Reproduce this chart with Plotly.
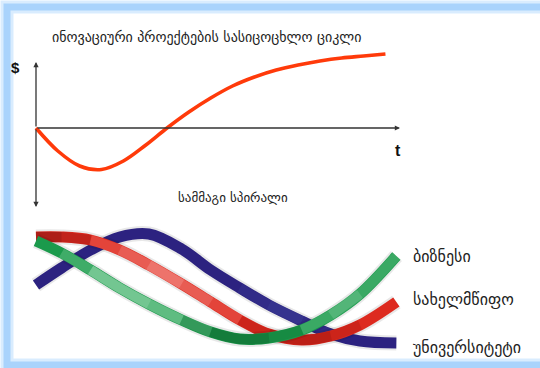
import plotly.graph_objects as go

# --- Life-cycle curve of an innovative project (cash flow over time) ---
t_vals = [0, 0.6, 1.2, 1.8, 2.4, 3.0, 3.6, 4.2, 4.8, 5.4, 6.0, 6.6, 7.2, 7.8, 8.4, 9.0, 9.6]
cash_vals = [0, -2.3, -3.8, -4.15, -3.3, -1.75, 0, 1.6, 3.0, 4.2, 5.1, 5.8, 6.3, 6.7, 7.0, 7.2, 7.4]

# --- Triple helix ribbons ---
helix_x = [0, 0.7, 1.5, 2.3, 3.1, 4.0, 4.8, 5.6, 6.4, 7.3, 8.1, 8.9, 9.9]
business = [9.9, 8.7, 7.0, 5.2, 3.6, 2.0, 0.8, 0.1, 0.2, 1.0, 2.5, 4.6, 8.4]
state = [10.3, 10.3, 10.0, 9.0, 7.5, 5.6, 3.8, 2.0, 0.6, 0.0, 0.4, 1.5, 3.8]
university = [5.5, 7.2, 9.0, 10.3, 10.6, 9.1, 7.0, 5.2, 3.5, 1.9, 0.6, -0.1, -0.3]

title_text = "ინოვაციური პროექტების სასიცოცხლო ციკლი"
helix_title = "სამმაგი სპირალი"
labels = ["ბიზნესი", "სახელმწიფო", "უნივერსიტეტი"]
label_shift = [0, 3, -4]

W, H = 540, 368
GEO = "DejaVu Sans"

fig = go.Figure()

# top chart curve
fig.add_trace(go.Scatter(
    x=t_vals, y=cash_vals, mode="lines",
    line=dict(color="#ff3a0a", width=3.6, shape="spline", smoothing=1.0),
    xaxis="x", yaxis="y", hoverinfo="skip"))


def seg(xs, ys, a, b, color, width):
    fig.add_trace(go.Scatter(x=xs[a:b], y=ys[a:b], mode="lines", xaxis="x2", yaxis="y2",
                             line=dict(color=color, width=width, shape="spline"),
                             hoverinfo="skip"))


def ribbon(xs, ys, base, tints):
    """Ribbon with a soft shadow; `tints` are (start, end, rgba) overlays that
    stack to give the band a shaded look along its length."""
    n = len(xs)
    seg(xs, ys, 0, n, "rgba(0,0,0,0.09)", 15)
    seg(xs, ys, 0, n, base, 11)
    for a, b, col in tints:
        seg(xs, ys, a, b, col, 10)


ribbon(helix_x, university, "#2c2280", [
    (7, 11, "rgba(80,100,180,0.15)"),
    (8, 10, "rgba(80,100,180,0.15)"),
])
ribbon(helix_x, state, "#dd2a1f", [
    (0, 3, "rgba(130,20,20,0.3)"),
    (0, 2, "rgba(130,20,20,0.3)"),
    (2, 8, "rgba(255,190,185,0.18)"),
    (3, 7, "rgba(255,190,185,0.2)"),
    (4, 6, "rgba(255,200,195,0.22)"),
    (7, 12, "rgba(140,15,10,0.2)"),
    (8, 11, "rgba(140,15,10,0.25)"),
])
ribbon(helix_x, business, "#1b9a4c", [
    (1, 7, "rgba(210,245,220,0.2)"),
    (2, 6, "rgba(210,245,220,0.22)"),
    (2, 5, "rgba(210,245,220,0.18)"),
    (5, 10, "rgba(10,80,35,0.2)"),
    (6, 9, "rgba(10,80,35,0.25)"),
    (9, 13, "rgba(200,240,210,0.18)"),
    (10, 12, "rgba(200,240,210,0.18)"),
])

# axis arrows for the top chart
arrow = dict(xref="x", yref="y", axref="x", ayref="y", showarrow=True, arrowhead=2,
             arrowsize=0.8, arrowwidth=1.3, arrowcolor="#333333", text="")
fig.add_annotation(x=10, y=0, ax=0, ay=0, **arrow)
fig.add_annotation(x=0, y=6.6, ax=0, ay=0, **arrow)
fig.add_annotation(x=0, y=-7.9, ax=0, ay=0, **arrow)

fig.add_annotation(x=-0.55, y=6.1, xref="x", yref="y", text="<b>$</b>", showarrow=False,
                   font=dict(family="Liberation Sans", size=15, color="#111"))
fig.add_annotation(x=9.95, y=-2.2, xref="x", yref="y", text="<b>t</b>", showarrow=False,
                   font=dict(family="Liberation Sans", size=16, color="#111"))

fig.add_annotation(x=207 / W, y=1 - 27 / H, xref="paper", yref="paper", text=title_text,
                   showarrow=False, font=dict(family=GEO, size=14, color="#222"))
fig.add_annotation(x=233 / W, y=1 - 198 / H, xref="paper", yref="paper", text=helix_title,
                   showarrow=False, font=dict(family=GEO, size=13, color="#222"))

for lab, series, dy in zip(labels, [business, state, university], label_shift):
    fig.add_annotation(x=10.3, y=series[-1], xref="x2", yref="y2", text=lab, showarrow=False,
                       xanchor="left", yshift=dy, font=dict(family=GEO, size=16, color="#222"))

# light-blue frame
fig.add_shape(type="rect", xref="paper", yref="paper", x0=7 / W, x1=1.1, y0=1 - 365 / H, y1=1 - 7 / H,
              line=dict(color="rgba(170,212,252,0.45)", width=13), layer="below")
fig.add_shape(type="rect", xref="paper", yref="paper", x0=7 / W, x1=1.1, y0=1 - 365 / H, y1=1 - 7 / H,
              line=dict(color="#a9d3fc", width=7), layer="below")

x_rng = [(0 - 36) / 36.4, (W - 36) / 36.4]
hidden = dict(visible=False, fixedrange=True)
fig.update_layout(
    width=W, height=H, autosize=False, margin=dict(l=0, r=0, t=0, b=0),
    paper_bgcolor="white", plot_bgcolor="rgba(0,0,0,0)", showlegend=False,
    xaxis=dict(range=x_rng, domain=[0, 1], **hidden),
    yaxis=dict(range=[(128 - H) / 10, 128 / 10], domain=[0, 1], **hidden),
    xaxis2=dict(range=x_rng, domain=[0, 1], anchor="y2", overlaying="x", **hidden),
    yaxis2=dict(range=[(340 - H) / 10, 340 / 10], domain=[0, 1], anchor="x2", overlaying="y", **hidden),
)

fig.write_html("out.html")
